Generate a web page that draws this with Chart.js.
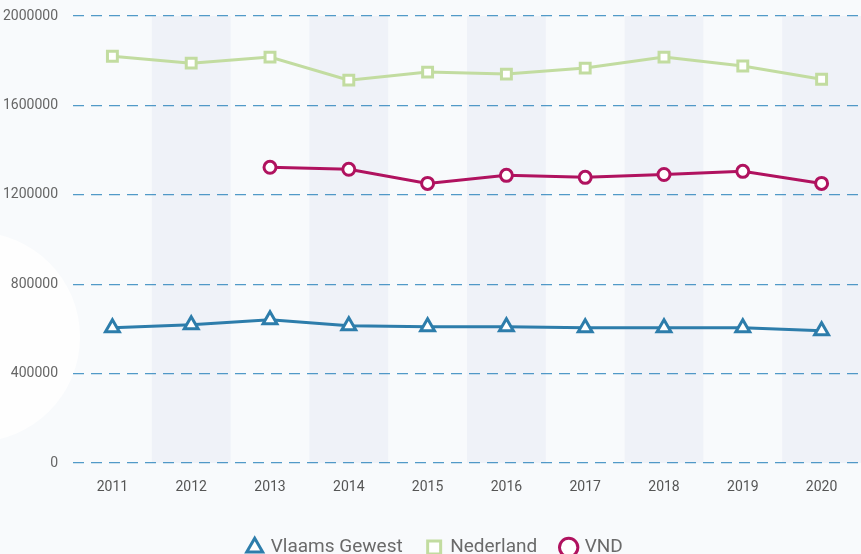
<!DOCTYPE html>
<html>
<head>
<meta charset="utf-8">
<script src="https://cdn.jsdelivr.net/npm/chart.js@4"></script>
<style>
  html, body { margin: 0; padding: 0; background: #f8fafc; }
  #wrap { width: 861px; height: 554px; position: relative; }
</style>
</head>
<body>
<div id="wrap"><canvas id="chart"></canvas></div>
<script>
  const years = ['2011', '2012', '2013', '2014', '2015', '2016', '2017', '2018', '2019', '2020'];
  const vlaamsGewest = [605000, 619000, 641000, 614000, 610000, 610000, 605000, 605000, 605000, 592000];
  const nederland = [1820000, 1789000, 1816000, 1713000, 1749000, 1740000, 1767000, 1816000, 1776000, 1717000];
  const vnd = [null, null, 1323000, 1314000, 1251000, 1287000, 1278000, 1291000, 1305000, 1251000];
  const yTicks = [0, 400000, 800000, 1200000, 1600000, 2000000];

  // white blob on the left + shaded bands behind every other year
  const backdrop = {
    id: 'backdrop',
    afterLayout(chart) {
      // legend sits a bit right of centre in the original
      chart.legend.left += 5;
      chart.legend.right += 5;
    },
    beforeDraw(chart) {
      const c = chart.ctx;
      const area = chart.chartArea;
      const x = chart.scales.x;
      c.save();
      c.fillStyle = '#fefefe';
      c.beginPath();
      c.arc(-25, 337, 105, 0, Math.PI * 2);
      c.fill();
      const half = (x.getPixelForValue(1) - x.getPixelForValue(0)) / 2;
      c.fillStyle = '#eff2f8';
      for (let i = 1; i < years.length; i += 2) {
        const px = x.getPixelForValue(i);
        c.fillRect(px - half, area.top, half * 2, area.bottom - area.top);
      }
      c.restore();
    }
  };

  const ctx = document.getElementById('chart').getContext('2d');
  const chart = new Chart(ctx, {
    type: 'line',
    data: {
      labels: years,
      datasets: [
        {
          label: 'Vlaams Gewest',
          data: vlaamsGewest,
          borderColor: '#2d7dab',
          backgroundColor: '#ffffff',
          borderWidth: 3,
          pointStyle: 'triangle',
          pointRadius: 8,
          pointBorderWidth: 3
        },
        {
          label: 'Nederland',
          data: nederland,
          borderColor: '#c2dca0',
          backgroundColor: '#ffffff',
          borderWidth: 3,
          pointStyle: 'rect',
          pointRadius: 7,
          pointBorderWidth: 3
        },
        {
          label: 'VND',
          data: vnd,
          borderColor: '#b0125f',
          backgroundColor: '#ffffff',
          borderWidth: 3,
          pointStyle: 'circle',
          pointRadius: 6,
          pointBorderWidth: 3
        }
      ]
    },
    options: {
      responsive: true,
      maintainAspectRatio: false,
      animation: false,
      layout: { autoPadding: false, padding: { top: 16, right: 0, left: 0, bottom: -13 } },
      plugins: {
        tooltip: { enabled: false },
        legend: {
          position: 'bottom',
          labels: {
            usePointStyle: true,
            boxWidth: 13,
            boxHeight: 13,
            padding: 25,
            color: '#6a6a6a',
            font: { family: 'Roboto', size: 19 }
          }
        }
      },
      scales: {
        x: {
          offset: true,
          afterFit(scale) {
            scale.height = 50;
            scale.paddingLeft = 0;
            scale.paddingRight = 0;
          },
          grid: { display: false },
          border: { display: false },
          ticks: { color: '#555', padding: 8, font: { family: 'Roboto', size: 14 } }
        },
        y: {
          min: 0,
          max: 2000000,
          afterBuildTicks(scale) {
            scale.ticks = yTicks.map(v => ({ value: v }));
          },
          afterFit(scale) {
            scale.width = 73;
            scale.paddingTop = 0;
            scale.paddingBottom = 0;
          },
          border: { display: false, dash: [11, 7] },
          grid: { color: 'rgba(52,136,190,0.85)', lineWidth: 1.2, drawTicks: false },
          ticks: {
            color: '#666',
            padding: 15,
            font: { family: 'Roboto', size: 14 },
            callback: v => String(v)
          }
        }
      }
    },
    plugins: [backdrop]
  });
</script>
</body>
</html>
